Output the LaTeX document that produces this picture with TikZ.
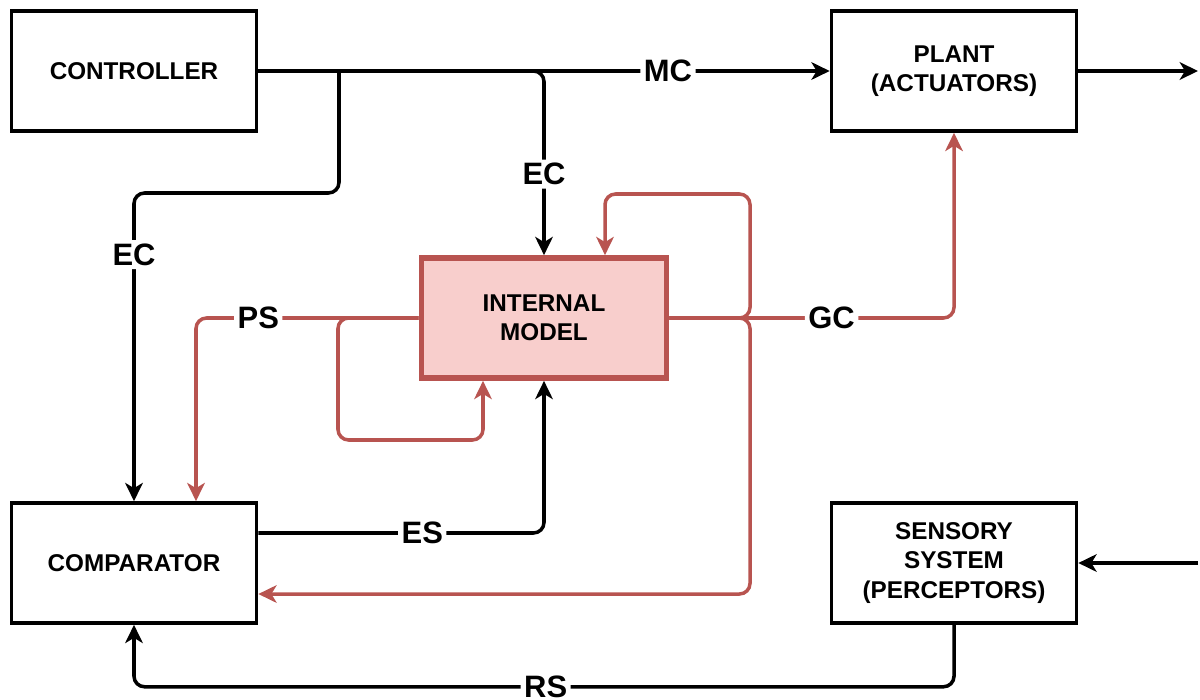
\documentclass[tikz,border=0pt]{standalone}
\usepackage{fontspec}
\setmainfont{Liberation Sans}
\usetikzlibrary{arrows.meta,calc}
\definecolor{modelred}{HTML}{B85450}
\definecolor{modelpink}{HTML}{F8CECC}

\begin{document}
\begin{tikzpicture}[
  x=0.01cm, y=-0.01cm,
  box/.style={rectangle, draw, line width=1pt, align=center, inner sep=0pt,
    minimum width=2.45cm, minimum height=1.2cm, font=\fontsize{6.9}{8.3}\selectfont\bfseries},
  model/.style={box, draw=modelred, fill=modelpink, line width=1.6pt},
  arr/.style={-{Stealth[length=5.2pt, width=5pt, inset=1.5pt]}, line width=1pt, rounded corners=3pt},
  redarr/.style={arr, draw=modelred},
  lbl/.style={fill=white, inner sep=1pt, text=black, font=\fontsize{8.8}{10}\selectfont\bfseries}
]
\useasboundingbox (0,0) rectangle (1200,700);

% blocks
\node[box] (ctrl) at (134,71) {CONTROLLER};
\node[box] (plant) at (954,71) {PLANT\\(ACTUATORS)};
\node[model] (im) at (544,318) {INTERNAL\\MODEL};
\node[box] (comp) at (134,563) {COMPARATOR};
\node[box] (sens) at (954,563) {SENSORY\\SYSTEM\\(PERCEPTORS)};

\coordinate (split) at (339,71);
\coordinate (out) at (1198,71);
\coordinate (in) at (1198,563);

% commands
\draw[arr] (ctrl.east) -- (plant.west) node[lbl, pos=0.717] {MC};
\draw[arr] (plant.east) -- (out);
\draw[arr] (ctrl.east) -| (im.north) node[lbl, pos=0.78] {EC};
\draw[arr] (split) -- (339,193) -| (comp.north) node[lbl, pos=0.6] {EC};

% internal model loops
\draw[redarr] (im.east) -- (750,318) |- (605,194) -- ($(im.north)+(61,0)$);
\draw[redarr] (im.west) -- (338,318) |- (483,440) -- ($(im.south)+(-61,0)$);
\draw[redarr] (im.east) -| (plant.south) node[lbl, pos=0.285] {GC};
\draw[redarr] (im.east) -- (750,318) |- ($(comp.east)+(0,31)$);
\draw[redarr] (im.west) -| ($(comp.north)+(62,0)$) node[lbl, pos=0.36] {PS};

% signals
\draw[arr] ($(comp.east)+(0,-30)$) -| (im.south) node[lbl, pos=0.287] {ES};
\draw[arr] (in) -- (sens.east);
\draw[arr] (sens.south) -- ++(0,62) -| (comp.south) node[lbl, pos=0.249] {RS};
\end{tikzpicture}
\end{document}
